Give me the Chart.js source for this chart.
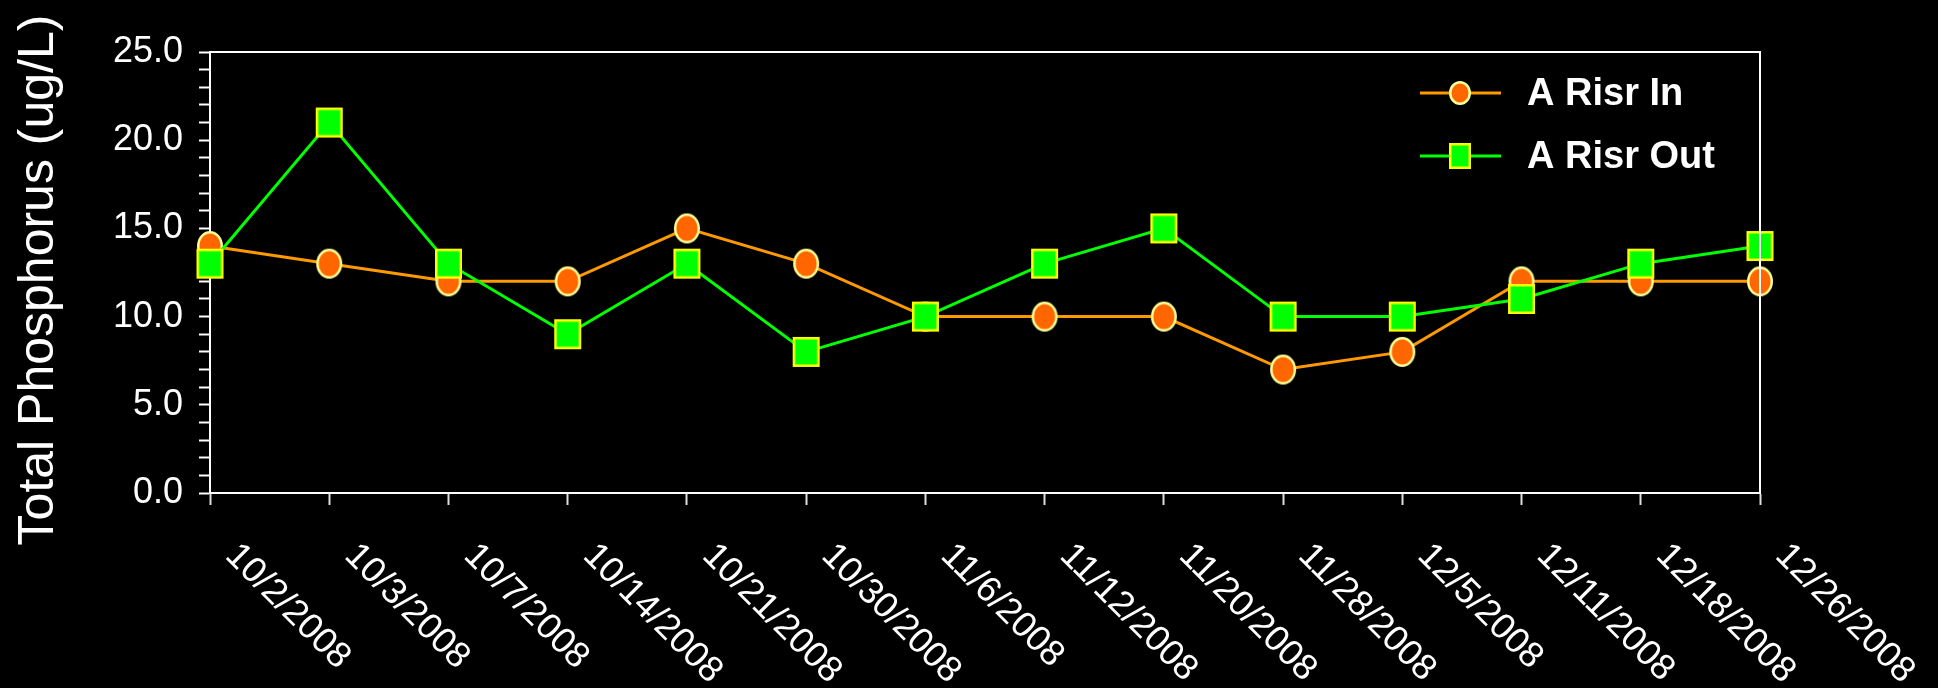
<!DOCTYPE html>
<html>
<head>
<meta charset="utf-8">
<script src="https://cdn.jsdelivr.net/npm/chart.js@4/dist/chart.umd.min.js"></script>
<style>
  html, body { margin: 0; padding: 0; background: #000; }
  #wrap { width: 1938px; height: 688px; background: #000; }
</style>
</head>
<body>
<div id="wrap"><canvas id="c" width="1938" height="688"></canvas></div>
<script>
const categories = ['10/2/2008','10/3/2008','10/7/2008','10/14/2008','10/21/2008','10/30/2008','11/6/2008','11/12/2008','11/20/2008','11/28/2008','12/5/2008','12/11/2008','12/18/2008','12/26/2008'];
const risrIn  = [14, 13, 12, 12, 15, 13, 10, 10, 10, 7, 8, 12, 12, 12];
const risrOut = [13, 21, 13, 9, 13, 8, 10, 13, 15, 10, 10, 11, 13, 14];
const seriesNames = ['A Risr In', 'A Risr Out'];
const yTitle = 'Total Phosphorus (ug/L)';
const yMin = 0, yMax = 25, yMinorStep = 1, yMajorStep = 5;

const FONT = '"Liberation Sans", Arial, Helvetica, sans-serif';

function ellipseMarker(w, h, fill, stroke, lw) {
  const c = document.createElement('canvas');
  c.width = w + 4; c.height = h + 4;
  const g = c.getContext('2d');
  g.beginPath();
  g.ellipse(c.width / 2, c.height / 2, (w - lw) / 2, (h - lw) / 2, 0, 0, Math.PI * 2);
  g.fillStyle = fill; g.fill();
  g.lineWidth = lw; g.strokeStyle = stroke; g.stroke();
  return c;
}
function rectMarker(w, h, fill, stroke, lw) {
  const c = document.createElement('canvas');
  c.width = w + 4; c.height = h + 4;
  const g = c.getContext('2d');
  const x0 = (c.width - w) / 2 + lw / 2, y0 = (c.height - h) / 2 + lw / 2;
  g.fillStyle = fill; g.fillRect(x0, y0, w - lw, h - lw);
  g.lineWidth = lw; g.strokeStyle = stroke; g.strokeRect(x0, y0, w - lw, h - lw);
  return c;
}

const inMarker  = ellipseMarker(26, 30, '#FF6600', '#FFFF99', 2.5);
const outMarker = rectMarker(27, 30, '#00FF00', '#FFFF00', 2.5);
const inLegend  = ellipseMarker(22, 24, '#FF6600', '#FFFF99', 2.5);
const outLegend = rectMarker(22, 26, '#00FF00', '#FFFF00', 2.5);

const frameAndText = {
  id: 'frameAndText',
  afterDraw(chart) {
    const ctx = chart.ctx;
    const a = chart.chartArea;
    const xs = chart.scales.x;
    ctx.save();
    // top & right frame
    ctx.strokeStyle = '#FFFFFF';
    ctx.lineWidth = 2;
    ctx.beginPath();
    ctx.moveTo(a.left, a.top);
    ctx.lineTo(a.right, a.top);
    ctx.lineTo(a.right, a.bottom);
    ctx.stroke();

    // x labels rotated 45° clockwise
    ctx.fillStyle = '#FFFFFF';
    ctx.font = '36px ' + FONT;
    ctx.textAlign = 'left';
    ctx.textBaseline = 'alphabetic';
    categories.forEach((lab, i) => {
      const x = xs.getPixelForValue(i);
      ctx.save();
      ctx.translate(x + 14, a.bottom + 64);
      ctx.rotate(Math.PI / 4);
      ctx.fillText(lab, 0, 0);
      ctx.restore();
    });

    // y title
    ctx.save();
    ctx.font = '50px ' + FONT;
    ctx.textAlign = 'center';
    ctx.translate(53, 280);
    ctx.rotate(-Math.PI / 2);
    ctx.fillText(yTitle, 0, 0);
    ctx.restore();

    // legend
    const items = [
      { name: seriesNames[0], color: '#FF9900', img: inLegend, y: 93, base: 105 },
      { name: seriesNames[1], color: '#00FF00', img: outLegend, y: 156, base: 168 }
    ];
    items.forEach(it => {
      ctx.strokeStyle = it.color;
      ctx.lineWidth = 3;
      ctx.beginPath();
      ctx.moveTo(1420, it.y);
      ctx.lineTo(1501, it.y);
      ctx.stroke();
      ctx.drawImage(it.img, 1460 - it.img.width / 2, it.y - it.img.height / 2);
      ctx.font = 'bold 38px ' + FONT;
      ctx.fillStyle = '#FFFFFF';
      ctx.textAlign = 'left';
      ctx.fillText(it.name, 1527, it.base);
    });
    ctx.restore();
  }
};

new Chart(document.getElementById('c'), {
  type: 'line',
  data: {
    labels: categories,
    datasets: [
      {
        label: seriesNames[0],
        data: risrIn,
        borderColor: '#FF9900',
        borderWidth: 3,
        pointStyle: inMarker,
        pointRadius: 15,
        pointHoverRadius: 15,
        tension: 0,
        clip: false,
        order: 2
      },
      {
        label: seriesNames[1],
        data: risrOut,
        borderColor: '#00FF00',
        borderWidth: 3,
        pointStyle: outMarker,
        pointRadius: 15,
        pointHoverRadius: 15,
        tension: 0,
        clip: false,
        order: 1
      }
    ]
  },
  options: {
    responsive: false,
    animation: false,
    layout: { padding: { left: 0, right: 178, top: 52, bottom: 0 } },
    plugins: {
      legend: { display: false },
      tooltip: { enabled: false },
      title: { display: false }
    },
    scales: {
      x: {
        type: 'category',
        offset: false,
        grid: {
          display: true,
          drawOnChartArea: false,
          drawTicks: true,
          tickLength: 12,
          tickWidth: 2,
          color: '#DDDDDD'
        },
        border: { display: true, color: '#FFFFFF', width: 2 },
        ticks: { display: false },
        afterFit(scale) { scale.height = 195; }
      },
      y: {
        min: yMin,
        max: yMax,
        grid: {
          display: true,
          drawOnChartArea: false,
          drawTicks: true,
          tickLength: 11,
          tickWidth: 2,
          color: '#FFFFFF'
        },
        border: { display: true, color: '#FFFFFF', width: 2 },
        ticks: {
          stepSize: yMinorStep,
          autoSkip: false,
          color: '#FFFFFF',
          padding: 16,
          font: { family: FONT, size: 36 },
          callback: (v) => (v % yMajorStep === 0 ? Number(v).toFixed(1) : '')
        },
        afterFit(scale) { scale.width = 210; }
      }
    }
  },
  plugins: [frameAndText]
});
</script>
</body>
</html>
